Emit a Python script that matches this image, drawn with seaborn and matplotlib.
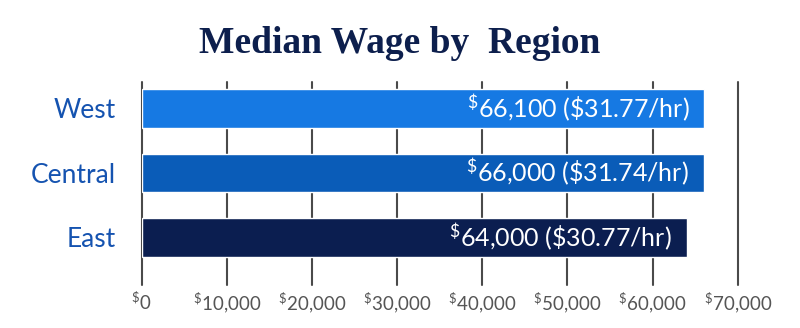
import matplotlib
matplotlib.use("Agg")
import matplotlib.pyplot as plt
import seaborn as sns
import pandas as pd

regions = ["West", "Central", "East"]
wages = [66100, 66000, 64000]
hourly = ["$31.77/hr", "$31.74/hr", "$30.77/hr"]
bar_colors = ["#1679e3", "#0a5cb8", "#0b1e50"]
xticks = [0, 10000, 20000, 30000, 40000, 50000, 60000, 70000]

sns.set_theme(style="white")
plt.rcParams["font.family"] = ["Lato", "DejaVu Sans"]
plt.rcParams["mathtext.fontset"] = "custom"
plt.rcParams["mathtext.rm"] = "Lato"
plt.rcParams["mathtext.it"] = "Lato"
plt.rcParams["mathtext.default"] = "regular"

df = pd.DataFrame({"region": regions, "wage": wages})

fig = plt.figure(figsize=(8, 3.28), dpi=100)
L, R, T, B = 141.7, 737.7, 82, 285
ax = fig.add_axes([L/800, 1 - B/328, (R-L)/800, (B-T)/328])

for x in xticks:
    ax.axvline(x, color="#4a4a4a", lw=1.5, zorder=0, clip_on=False)

sns.barplot(data=df, x="wage", y="region", hue="region", palette=bar_colors,
            orient="h", width=0.6, saturation=1, legend=False, ax=ax, zorder=2)

ax.set_xlim(0, 70000)
ax.set_ylim(2.74, -0.41)
for s in ax.spines.values():
    s.set_visible(False)

ax.set_xticks(xticks)
ax.set_xticklabels([r"$^{\$}$" + f"{v:,}" for v in xticks], color="#555555",
                   fontsize=13.5)
ax.tick_params(axis="x", length=0, pad=4)
ax.tick_params(axis="y", length=0, pad=18.5)
ax.set_yticks(range(len(regions)))
ax.set_yticklabels(regions, color="#1553b0", fontsize=19)
ax.set_xlabel("")
ax.set_ylabel("")

for i, (w, h) in enumerate(zip(wages, hourly)):
    ax.annotate(r"$^{\$}$" + f"{w:,} ({h})".replace("$", r"\$"),
                xy=(w, i), xytext=(-11, 0), textcoords="offset points",
                ha="right", va="center", color="white", fontsize=18, zorder=3)

fig.text(0.5, 1 - 53/328, "Median Wage by  Region", ha="center", va="baseline",
         fontsize=27, fontweight="bold", color="#0d1f4d",
         family=["Liberation Serif", "DejaVu Serif"])

fig.savefig("out.png", dpi=100, facecolor="white")
